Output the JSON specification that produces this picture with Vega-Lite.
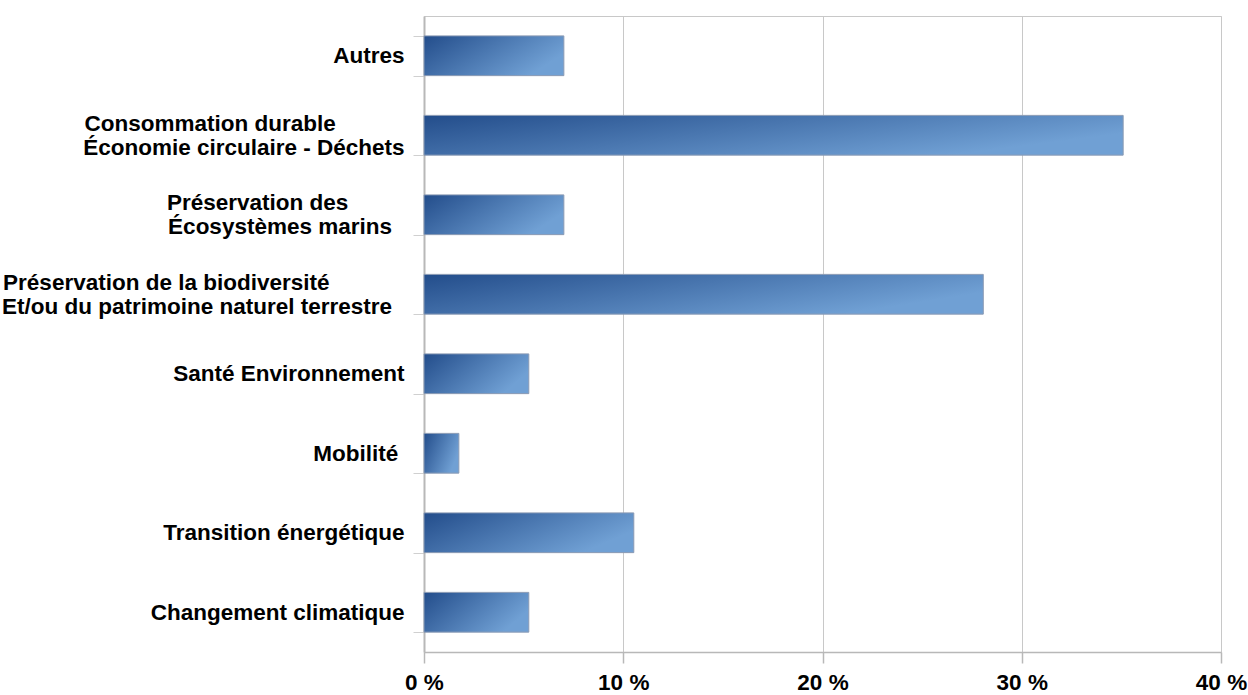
{
  "$schema": "https://vega.github.io/schema/vega-lite/v6.json",
  "autosize": {"type": "none"},
  "padding": {"left": 424, "top": 16, "right": 27, "bottom": 43},
  "width": 797,
  "height": 636,
  "background": "white",
  "config": {
    "view": {"stroke": "#c8c8c8", "strokeWidth": 1},
    "font": "Liberation Sans"
  },
  "data": {
    "values": [
      {"theme": "Autres", "share": 7.02},
      {"theme": "Consommation durable\u00a0\u00a0\u00a0\u00a0\u00a0\u00a0\u00a0\u00a0\u00a0\u00a0\u00a0\u200b|Économie circulaire - Déchets", "share": 35.09},
      {"theme": "Préservation des\u00a0\u00a0\u00a0\u00a0\u00a0\u00a0\u00a0\u00a0\u00a0\u200b|Écosystèmes marins\u00a0\u00a0\u200b", "share": 7.02},
      {"theme": "Préservation de la biodiversité\u00a0\u00a0\u00a0\u00a0\u00a0\u00a0\u00a0\u00a0\u00a0\u00a0\u00a0\u00a0\u200b|Et/ou du patrimoine naturel terrestre\u00a0\u00a0\u200b", "share": 28.07},
      {"theme": "Santé Environnement", "share": 5.26},
      {"theme": "Mobilité\u00a0\u200b", "share": 1.75},
      {"theme": "Transition énergétique", "share": 10.53},
      {"theme": "Changement climatique", "share": 5.26}
    ]
  },
  "mark": {
    "type": "bar",
    "stroke": "#8b9bb4",
    "strokeWidth": 1,
    "fill": {
      "gradient": "linear",
      "x1": 0, "y1": 0, "x2": 1, "y2": 0.45,
      "stops": [
        {"offset": 0, "color": "#234d8b"},
        {"offset": 1, "color": "#70a0d4"}
      ]
    }
  },
  "encoding": {
    "y": {
      "field": "theme",
      "type": "nominal",
      "sort": null,
      "title": null,
      "scale": {"paddingInner": 0.5, "paddingOuter": 0.25},
      "axis": {
        "labelExpr": "split(datum.label, '|')",
        "labelFont": "Liberation Sans",
        "labelFontSize": 22.5,
        "labelFontWeight": "bold",
        "labelColor": "#000000",
        "labelLineHeight": 24,
        "labelPadding": 9,
        "labelLimit": 500,
        "labelOffset": {"condition": {"test": "isString(datum.value) && indexof(datum.value, '|') >= 0", "value": -12}, "value": 0},
        "tickBand": "extent",
        "tickSize": 11,
        "tickColor": "#d0d0d0",
        "tickWidth": 1,
        "domainColor": "#b8b8b8",
        "domainWidth": 2,
        "grid": false
      }
    },
    "x": {
      "field": "share",
      "type": "quantitative",
      "title": null,
      "scale": {"domain": [0, 40], "nice": false},
      "axis": {
        "values": [0, 10, 20, 30, 40],
        "labelExpr": "datum.value + ' %'",
        "labelFont": "Liberation Sans",
        "labelFontSize": 22.5,
        "labelFontWeight": "bold",
        "labelColor": "#000000",
        "labelPadding": 8,
        "labelFlush": false,
        "tickSize": 11,
        "tickColor": "#b8b8b8",
        "tickWidth": 1.5,
        "domainColor": "#b8b8b8",
        "domainWidth": 1.5,
        "grid": true,
        "gridColor": "#c8c8c8",
        "gridWidth": 1
      }
    }
  }
}
